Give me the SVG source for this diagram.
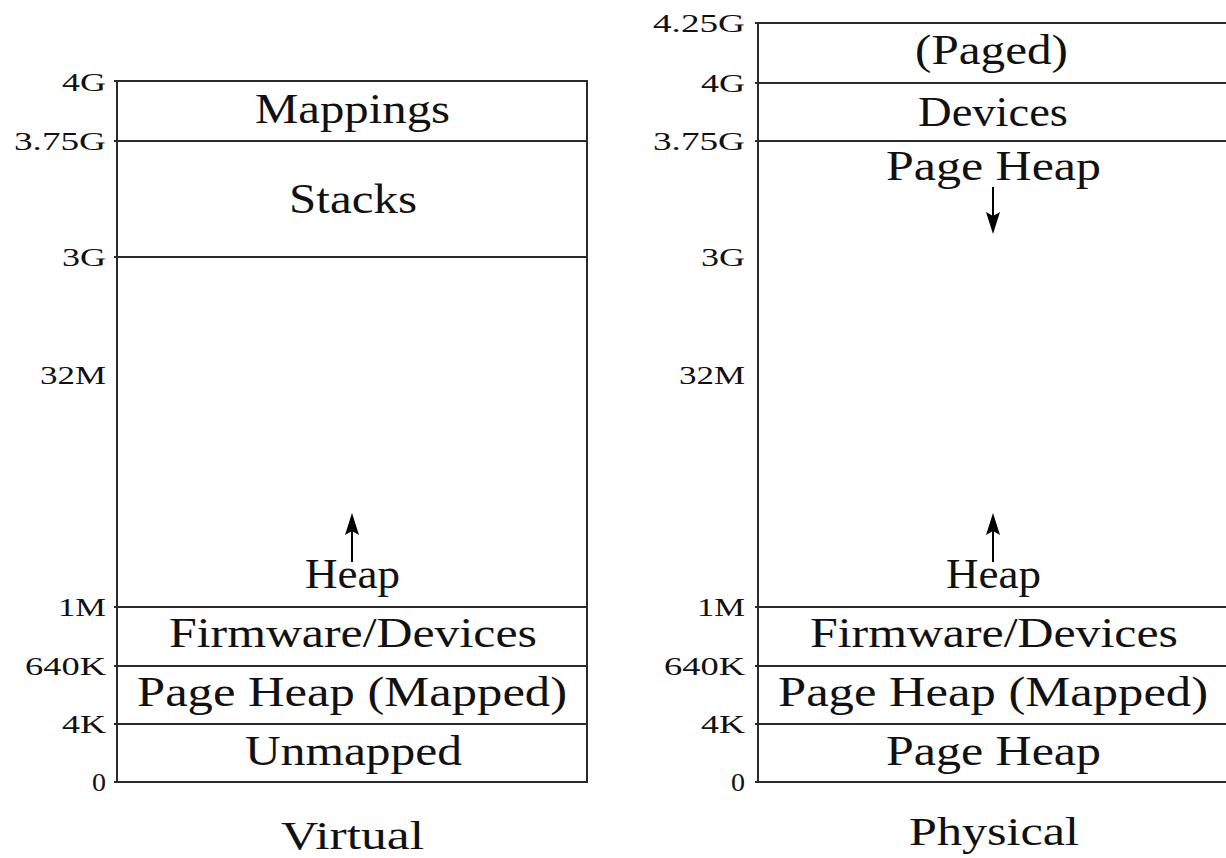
<svg xmlns="http://www.w3.org/2000/svg" width="1226" height="858" viewBox="0 0 1226 858">
<style>
  .ln { stroke: #2a2a2a; stroke-width: 2; fill: none; }
  .lbl { font-family: "Liberation Serif", "DejaVu Serif", serif; font-size: 42px; fill: #111; }
  .ttl { font-family: "Liberation Serif", "DejaVu Serif", serif; font-size: 40px; fill: #111; }
  .tick { font-family: "Liberation Serif", "DejaVu Serif", serif; font-size: 25px; fill: #111; }
  .arr { stroke: #000; stroke-width: 2; }
  .head { fill: #000; }
</style>
<rect width="1226" height="858" fill="#fff"/>

<!-- Virtual address space -->
<g id="virtual-frame">
  <line class="ln" x1="117" y1="81" x2="117" y2="783"/>
  <line class="ln" x1="587" y1="81" x2="587" y2="783"/>
  <line class="ln" x1="114" y1="81" x2="588" y2="81"/>
  <line class="ln" x1="114" y1="141" x2="588" y2="141"/>
  <line class="ln" x1="114" y1="257" x2="588" y2="257"/>
  <line class="ln" x1="114" y1="607" x2="588" y2="607"/>
  <line class="ln" x1="114" y1="666" x2="588" y2="666"/>
  <line class="ln" x1="114" y1="724" x2="588" y2="724"/>
  <line class="ln" x1="114" y1="782" x2="588" y2="782"/>
</g>
<g id="virtual-ticks">
  <text class="tick" x="62" y="91" textLength="44" lengthAdjust="spacingAndGlyphs">4G</text>
  <text class="tick" x="14" y="150" textLength="92" lengthAdjust="spacingAndGlyphs">3.75G</text>
  <text class="tick" x="62" y="266" textLength="44" lengthAdjust="spacingAndGlyphs">3G</text>
  <text class="tick" x="40" y="384" textLength="66" lengthAdjust="spacingAndGlyphs">32M</text>
  <text class="tick" x="58" y="616" textLength="48" lengthAdjust="spacingAndGlyphs">1M</text>
  <text class="tick" x="25" y="675" textLength="81" lengthAdjust="spacingAndGlyphs">640K</text>
  <text class="tick" x="62" y="733" textLength="44" lengthAdjust="spacingAndGlyphs">4K</text>
  <text class="tick" x="92" y="791" textLength="14" lengthAdjust="spacingAndGlyphs">0</text>
</g>
<g id="v-mappings"><text class="lbl" x="255" y="123" textLength="195" lengthAdjust="spacingAndGlyphs">Mappings</text></g>
<g id="v-stacks"><text class="lbl" x="289" y="213" textLength="128" lengthAdjust="spacingAndGlyphs">Stacks</text></g>
<g id="v-heap"><text class="lbl" x="305" y="588" textLength="95" lengthAdjust="spacingAndGlyphs">Heap</text></g>
<g id="v-firmware"><text class="lbl" x="169" y="647" textLength="368" lengthAdjust="spacingAndGlyphs">Firmware/Devices</text></g>
<g id="v-pageheap-mapped"><text class="lbl" x="137" y="706" textLength="430" lengthAdjust="spacingAndGlyphs">Page Heap (Mapped)</text></g>
<g id="v-unmapped"><text class="lbl" x="245" y="765" textLength="217" lengthAdjust="spacingAndGlyphs">Unmapped</text></g>
<g id="v-title"><text class="ttl" x="281" y="849" textLength="143" lengthAdjust="spacingAndGlyphs">Virtual</text></g>

<!-- Physical address space -->
<g id="physical-frame">
  <line class="ln" x1="758" y1="23" x2="758" y2="783"/>
  <line class="ln" x1="755" y1="23" x2="1226" y2="23"/>
  <line class="ln" x1="755" y1="83" x2="1226" y2="83"/>
  <line class="ln" x1="755" y1="141" x2="1226" y2="141"/>
  <line class="ln" x1="755" y1="607" x2="1226" y2="607"/>
  <line class="ln" x1="755" y1="666" x2="1226" y2="666"/>
  <line class="ln" x1="755" y1="724" x2="1226" y2="724"/>
  <line class="ln" x1="755" y1="782" x2="1226" y2="782"/>
</g>
<g id="physical-ticks">
  <text class="tick" x="653" y="32" textLength="92" lengthAdjust="spacingAndGlyphs">4.25G</text>
  <text class="tick" x="701" y="92" textLength="44" lengthAdjust="spacingAndGlyphs">4G</text>
  <text class="tick" x="653" y="150" textLength="92" lengthAdjust="spacingAndGlyphs">3.75G</text>
  <text class="tick" x="701" y="266" textLength="44" lengthAdjust="spacingAndGlyphs">3G</text>
  <text class="tick" x="679" y="384" textLength="66" lengthAdjust="spacingAndGlyphs">32M</text>
  <text class="tick" x="697" y="616" textLength="48" lengthAdjust="spacingAndGlyphs">1M</text>
  <text class="tick" x="664" y="675" textLength="81" lengthAdjust="spacingAndGlyphs">640K</text>
  <text class="tick" x="701" y="733" textLength="44" lengthAdjust="spacingAndGlyphs">4K</text>
  <text class="tick" x="731" y="791" textLength="14" lengthAdjust="spacingAndGlyphs">0</text>
</g>
<g id="p-paged"><text class="lbl" x="915" y="64" textLength="153" lengthAdjust="spacingAndGlyphs">(Paged)</text></g>
<g id="p-devices"><text class="lbl" x="918" y="126" textLength="150" lengthAdjust="spacingAndGlyphs">Devices</text></g>
<g id="p-pageheap-top"><text class="lbl" x="886" y="180" textLength="215" lengthAdjust="spacingAndGlyphs">Page Heap</text></g>
<g id="p-heap"><text class="lbl" x="946" y="588" textLength="95" lengthAdjust="spacingAndGlyphs">Heap</text></g>
<g id="p-firmware"><text class="lbl" x="810" y="647" textLength="368" lengthAdjust="spacingAndGlyphs">Firmware/Devices</text></g>
<g id="p-pageheap-mapped"><text class="lbl" x="778" y="706" textLength="430" lengthAdjust="spacingAndGlyphs">Page Heap (Mapped)</text></g>
<g id="p-pageheap-bottom"><text class="lbl" x="886" y="765" textLength="215" lengthAdjust="spacingAndGlyphs">Page Heap</text></g>
<g id="p-title"><text class="ttl" x="909" y="845" textLength="170" lengthAdjust="spacingAndGlyphs">Physical</text></g>

<!-- Connectors (growth arrows) -->
<g id="connectors">
  <line class="arr" x1="352" y1="562" x2="352" y2="530"/>
  <polygon class="head" points="352,513 359,535 352,531 345,535"/>
  <line class="arr" x1="993" y1="562" x2="993" y2="530"/>
  <polygon class="head" points="993,513 1000,535 993,531 986,535"/>
  <line class="arr" x1="993" y1="187" x2="993" y2="216"/>
  <polygon class="head" points="993,234 1000,212 993,216 986,212"/>
</g>
</svg>
